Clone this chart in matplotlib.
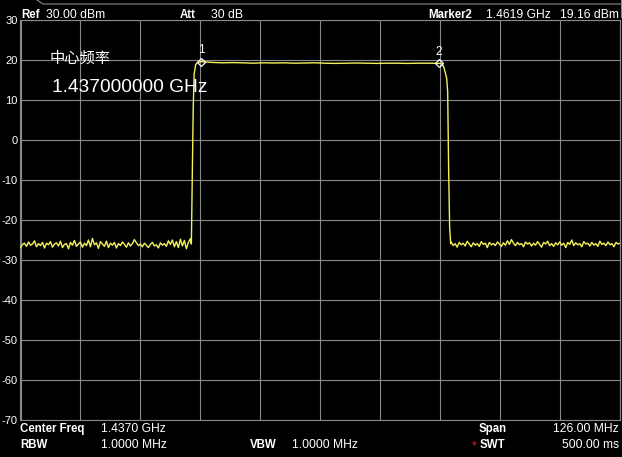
import numpy as np
import matplotlib.pyplot as plt
import matplotlib.lines as mlines

plt.rcParams['font.family'] = ['Liberation Sans', 'Noto Sans CJK SC', 'DejaVu Sans']

# sweep settings
center_ghz = 1.437
span_ghz = 0.126
f_start = center_ghz - span_ghz / 2
f_stop = center_ghz + span_ghz / 2

# noise floor below the band (dBm)
noise_left = [
    -26.9, -26.1, -25.8, -26.6, -25.5, -26.3, -26.0, -25.2, -26.7, -25.9,
    -26.4, -25.6, -27.0, -25.8, -26.2, -25.4, -26.8, -26.0, -25.7, -26.5,
    -25.3, -26.9, -26.1, -25.9, -27.2, -25.6, -26.3, -25.1, -26.6, -26.0,
    -25.5, -26.8, -25.8, -26.4, -25.0, -26.7, -24.6, -26.2, -25.7, -27.1,
    -25.4, -26.0, -26.6, -25.3, -26.9, -25.8, -26.3, -25.6, -27.0, -25.9,
    -26.4, -25.5, -26.1, -26.8, -25.7, -26.5, -25.9, -24.9, -25.7, -26.4,
    -26.0, -26.7, -25.8, -26.3, -26.9, -26.1, -25.6, -26.5, -26.2, -27.0,
    -25.7, -26.3, -25.9, -26.6, -25.2, -26.1, -25.0, -26.7, -25.4, -26.9,
    -24.8, -26.5, -25.1, -27.2, -25.6, -24.7]
noise_left_end = 1.40970

# rising edge
rise_f = [1.40991, 1.41010, 1.41030, 1.41050, 1.41080, 1.41120]
rise_v = [-26.0, -10.0, 8.0, 16.5, 18.8, 19.4]

# passband
band_start, band_stop = 1.4120, 1.4619
band_v = [19.6, 19.4, 19.3, 19.35, 19.3, 19.2, 19.3, 19.25, 19.3, 19.2,
          19.25, 19.3, 19.2, 19.15, 19.2, 19.25, 19.2, 19.15, 19.2, 19.2,
          19.15, 19.2, 19.2, 19.16]

# falling edge
fall_f = [1.46252, 1.46294, 1.46325, 1.46357, 1.46378, 1.46399, 1.46420, 1.46441]
fall_v = [19.1, 18.3, 17.0, 15.5, 12.0, -8.0, -22.0, -25.9]

# noise floor above the band (dBm)
noise_right = [
    -25.5, -26.4, -25.9, -26.8, -25.6, -26.2, -25.8, -26.5, -25.3, -26.0,
    -26.7, -25.7, -26.3, -25.9, -26.6, -25.4, -26.1, -25.8, -26.9, -25.6,
    -26.2, -25.9, -26.4, -25.5, -26.0, -26.6, -25.7, -26.3, -25.2, -26.1,
    -24.9, -25.8, -26.4, -25.6, -26.2, -25.9, -26.7, -25.5, -26.0, -25.7,
    -26.5, -25.8, -26.3, -25.4, -26.1, -26.8, -25.6, -26.0, -25.3, -26.4,
    -25.9, -26.6, -25.7, -26.2, -25.5, -26.3, -25.8, -26.9, -25.6, -26.1,
    -25.0, -26.4, -25.7, -26.2, -25.9, -26.7, -25.4, -26.0, -25.8, -26.5,
    -25.6, -26.3, -25.9, -26.6, -25.3, -26.1, -25.8, -26.4, -25.5, -26.2,
    -25.9, -26.7, -25.6, -26.0, -25.8]
noise_right_start = 1.46451

# markers
marker_f = [1.4120, 1.4619]
marker_v = [19.6, 19.16]
marker_lbl = ['1', '2']

y_ticks = [30, 20, 10, 0, -10, -20, -30, -40, -50, -60, -70]

# build trace
f = np.concatenate([
    np.linspace(f_start, noise_left_end, len(noise_left)),
    rise_f,
    np.linspace(band_start, band_stop, len(band_v)),
    fall_f,
    np.linspace(noise_right_start, f_stop, len(noise_right))])
v = np.concatenate([noise_left, rise_v, band_v, fall_v, noise_right])

W, H = 622, 457
fig = plt.figure(figsize=(W / 100, H / 100), dpi=100, facecolor='black')
ax = fig.add_axes([20.5 / W, 1 - 420 / H, 599.5 / W, 400 / H])
ax.set_facecolor('black')

ax.plot(f, v, color='#f2f25a', lw=1.0, zorder=3)
ax.plot(marker_f, marker_v, 'D', ms=4, mfc='none', mec='white', mew=0.9, zorder=4)
for mf, mv, ml in zip(marker_f, marker_v, marker_lbl):
    ax.annotate(ml, (mf, mv), xytext=(0, 4), textcoords='offset points',
                ha='center', va='bottom', color='white', fontsize=8.5)

ax.set_xlim(f_start, f_stop)
ax.set_ylim(-70, 30)
ax.set_xticks(np.linspace(f_start, f_stop, 11))
ax.set_xticklabels([])
ax.set_yticks(y_ticks)
ax.set_yticklabels([str(t) for t in y_ticks])
ax.tick_params(axis='x', length=0)
ax.tick_params(axis='y', length=0, pad=2, colors='white', labelsize=8)
ax.grid(True, color='#8a8a8a', lw=0.8)
for s in ax.spines.values():
    s.set_color('#8a8a8a')
    s.set_linewidth(0.8)

# in-plot annotation
ax.text(0.049, 0.905, '中心频率', transform=ax.transAxes,
        color='white', fontsize=11, va='center', ha='left',
        family=['Noto Sans CJK SC', 'DejaVu Sans'])
ax.text(0.052, 0.83, '1.437000000 GHz', transform=ax.transAxes,
        color='white', fontsize=13.8, va='center', ha='left')

# header / footer text
def ftxt(x, y, s, bold=False, ha='left', color='white'):
    fig.text(x / W, 1 - y / H, s, color=color, fontsize=8.3 if bold else 8.7,
             ha=ha, va='center', fontweight='bold' if bold else 'normal')

ftxt(21, 15, 'Ref', bold=True)
ftxt(46, 15, '30.00 dBm')
ftxt(180, 15, 'Att', bold=True)
ftxt(211, 15, '30 dB')
ftxt(428, 15, 'Marker2', bold=True)
ftxt(486, 15, '1.4619 GHz')
ftxt(619, 15, '19.16 dBm', ha='right')

ftxt(20, 429, 'Center Freq', bold=True)
ftxt(101, 429, '1.4370 GHz')
ftxt(479, 429, 'Span', bold=True)
ftxt(619, 429, '126.00 MHz', ha='right')
ftxt(20, 445, 'RBW', bold=True)
ftxt(101, 445, '1.0000 MHz')
ftxt(250, 445, 'VBW', bold=True)
ftxt(292, 445, '1.0000 MHz')
ftxt(472, 446, '*', color='#e02020')
ftxt(480, 445, 'SWT', bold=True)
ftxt(619, 445, '500.00 ms', ha='right')

# top frame line
fig.add_artist(mlines.Line2D([37 / W, 43 / W, 1.0], [1.0, 1 - 4 / H, 1 - 4 / H],
                             color='#8a8a8a', lw=0.8))
fig.add_artist(mlines.Line2D([620.5 / W, 620.5 / W], [1.0, 1 - 17 / H],
                             color='#8a8a8a', lw=0.8))

fig.savefig('out.png', dpi=100, facecolor='black')
